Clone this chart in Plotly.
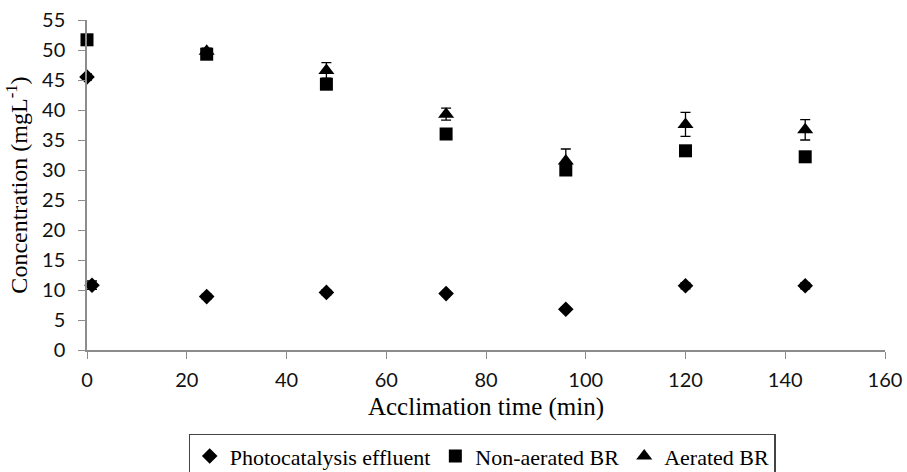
import plotly.graph_objects as go

# Data
photo_x = [0, 1, 24, 48, 72, 96, 120, 144]
photo_y = [45.5, 10.8, 8.9, 9.6, 9.4, 6.8, 10.7, 10.7]
photo_err = [0.5, 0.7, 0.4, 0.4, 0.3, 0.3, 0.5, 0.5]

nonaer_x = [0, 24, 48, 72, 96, 120, 144]
nonaer_y = [51.7, 49.3, 44.3, 36.0, 30.0, 33.2, 32.2]
nonaer_err = [0.5, 0.5, 0.5, 0.5, 0.5, 0.5, 0.5]

aer_x = [24, 48, 72, 96, 120, 144]
aer_y = [49.8, 46.6, 39.3, 31.5, 37.6, 36.7]
aer_err = [0.5, 1.3, 1.0, 2.0, 2.0, 1.7]

x_ticks = [0, 20, 40, 60, 80, 100, 120, 140, 160]
y_ticks = list(range(0, 56, 5))

tick_font = dict(family="Lato, Open Sans, sans-serif", size=20, color="#111")
serif = "Liberation Serif, Times New Roman, serif"

fig = go.Figure()

def err(vals):
    return dict(type="data", array=vals, visible=True, color="black",
                thickness=1.3, width=5)

fig.add_trace(go.Scatter(
    x=photo_x, y=photo_y, mode="markers", name="Photocatalysis effluent",
    marker=dict(symbol="diamond", size=12, color="black"),
    error_y=err(photo_err), cliponaxis=False))
fig.add_trace(go.Scatter(
    x=nonaer_x, y=nonaer_y, mode="markers", name="Non-aerated BR",
    marker=dict(symbol="square", size=13, color="black"),
    error_y=err(nonaer_err), cliponaxis=False))
fig.add_trace(go.Scatter(
    x=aer_x, y=aer_y, mode="markers", name="Aerated BR",
    marker=dict(symbol="triangle-up", size=14, color="black"),
    error_y=err(aer_err), cliponaxis=False))

fig.update_layout(
    width=907, height=472,
    margin=dict(l=87, r=22, t=20, b=122, autoexpand=False),
    paper_bgcolor="white", plot_bgcolor="white",
    showlegend=True,
    legend=dict(orientation="h", x=0.495, xanchor="center",
                yref="container", y=0.0805, yanchor="top",
                bordercolor="#444", borderwidth=1.2,
                font=dict(family=serif, size=22, color="black"),
                itemwidth=30, tracegroupgap=0),
    xaxis=dict(range=[0, 160], tickvals=x_ticks, showgrid=False,
               zeroline=False, showline=True, linecolor="#8c8c8c",
               linewidth=1.5, ticks="outside", tickcolor="#8c8c8c",
               ticklen=7, tickfont=tick_font, ticklabelstandoff=4,
               automargin=False,
               title=dict(text="Acclimation time (min)",
                          font=dict(family=serif, size=25, color="black"),
                          standoff=8)),
    yaxis=dict(range=[0, 55], tickvals=y_ticks, showgrid=False,
               zeroline=False, showline=True, linecolor="#8c8c8c",
               linewidth=1.5, ticks="outside", tickcolor="#8c8c8c",
               ticklen=7, tickfont=tick_font, ticklabelstandoff=9,
               automargin=False,
               title=dict(text="Concentration (mgL<sup>-1</sup>)",
                          font=dict(family=serif, size=24, color="black"),
                          standoff=8)),
)

fig.write_html("out.html")
